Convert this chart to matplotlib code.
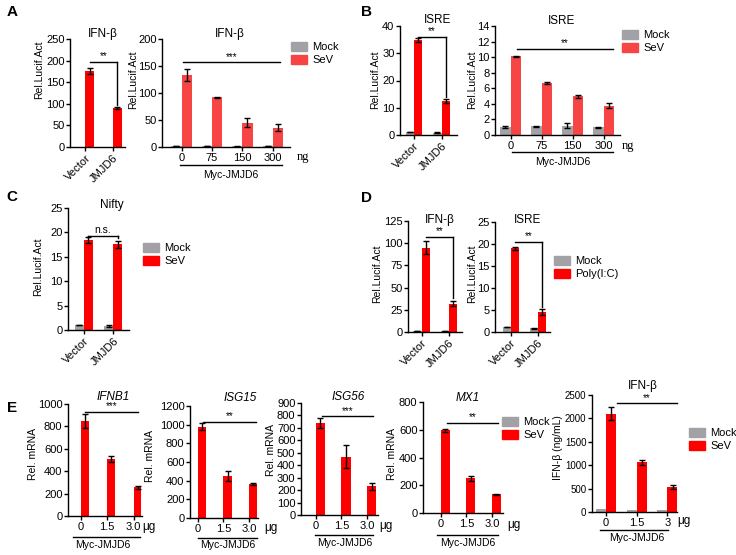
import numpy as np
import matplotlib
matplotlib.use("Agg")
import matplotlib.pyplot as plt
from matplotlib.lines import Line2D
from matplotlib.patches import Patch

plt.rcParams["font.family"] = ["Liberation Sans", "DejaVu Sans"]

W, H = 736, 555
GRAY = "#a2a2a6"
RED = "#ff0000"
RED_LT = "#f74545"

# ── dados ────────────────────────────────────────────────────────────────
vec_groups = ["Vector", "JMJD6"]
ng_labels = ["0", "75", "150", "300"]
ug_labels = ["0", "1.5", "3.0"]
ug_labels_elisa = ["0", "1.5", "3"]

a1_mock, a1_mock_err = [1, 1], [0, 0]
a1_sev, a1_sev_err = [176, 90], [6, 2]

a2_mock, a2_mock_err = [1, 1, 1.5, 1], [0, 0, 0.6, 0]
a2_sev, a2_sev_err = [133, 92, 45, 36], [11, 1, 8, 6]

b1_mock, b1_mock_err = [1.2, 0.8], [0, 0.15]
b1_sev, b1_sev_err = [34.8, 12.5], [0.8, 0.7]

b2_mock, b2_mock_err = [1.05, 1.1, 1.2, 1.0], [0.1, 0.05, 0.35, 0.05]
b2_sev, b2_sev_err = [10.1, 6.7, 4.95, 3.75], [0.1, 0.1, 0.15, 0.3]

c_mock, c_mock_err = [1.1, 0.9], [0, 0.2]
c_sev, c_sev_err = [18.5, 17.6], [0.6, 0.7]

d1_mock, d1_mock_err = [1, 1], [0, 0.3]
d1_poly, d1_poly_err = [95, 32], [7, 3]

d2_mock, d2_mock_err = [1.1, 0.8], [0, 0.15]
d2_poly, d2_poly_err = [19, 4.5], [0.3, 0.7]

e1_mock, e1_sev, e1_err = [2, 2, 2], [850, 510, 255], [60, 25, 10]
e2_mock, e2_sev, e2_err = [2, 2, 2], [980, 450, 360], [40, 50, 10]
e3_mock, e3_sev, e3_err = [2, 2, 2], [740, 470, 230], [40, 90, 30]
e4_mock, e4_sev, e4_err = [2, 2, 2], [595, 250, 135], [12, 20, 5]
e5_mock, e5_sev, e5_err = [70, 50, 50], [2100, 1060, 530], [140, 60, 40]

fig = plt.figure(figsize=(W / 100, H / 100), dpi=100)


def px(x, y):
    return x / W, 1 - y / H


def make_ax(x0, x1, ytop, ybot, ymax, ystep, xlim, fs=8):
    ax = fig.add_axes([x0 / W, 1 - ybot / H, (x1 - x0) / W, (ybot - ytop) / H])
    ax.set_xlim(*xlim)
    ax.set_ylim(0, ymax)
    ax.set_yticks(np.arange(0, ymax + ystep / 2, ystep))
    for s in ("top", "right"):
        ax.spines[s].set_visible(False)
    for s in ("left", "bottom"):
        ax.spines[s].set_linewidth(1)
    ax.tick_params(direction="out", length=3, width=1, labelsize=fs, pad=1.5)
    ax.tick_params(axis="y", pad=1)
    ax.patch.set_alpha(0)
    return ax


def draw_bars(ax, mock, mock_err, sev, sev_err, w, red):
    x = np.arange(len(sev))
    ax.bar(x - w / 2, mock, w, color=GRAY, zorder=1)
    ax.bar(x + w / 2, sev, w, color=red, zorder=1)
    ax.errorbar(x + w / 2, sev, yerr=sev_err, fmt="none", ecolor="k",
                elinewidth=1, capsize=2, capthick=1, zorder=3)
    me = np.array(mock_err)
    if me.any():
        ax.errorbar(x - w / 2, mock, yerr=me, fmt="none", ecolor="k",
                    elinewidth=1, capsize=2, capthick=1, zorder=3)
    ax.set_xticks(x)
    return x


def rotated_labels(ax, labels):
    ax.set_xticklabels(labels, rotation=45, ha="right", va="top",
                       rotation_mode="anchor", fontsize=8)


def bracket(ax, xa, xb, y, text, drop=None, fs=7):
    ax.plot([xa, xb], [y, y], color="k", lw=1, clip_on=False, zorder=4)
    if drop is not None:
        ax.plot([xb, xb], [y, drop], color="k", lw=1, clip_on=False, zorder=4)
    ax.annotate(text, xy=((xa + xb) / 2, y), xytext=(0, 0.3),
                textcoords="offset points", ha="center", va="bottom",
                fontsize=fs, annotation_clip=False)


def ftext(x, y, s, **kw):
    kw.setdefault("ha", "center")
    kw.setdefault("va", "center")
    fig.text(*px(x, y), s, **kw)


def ylab(x, y, s):
    ftext(x, y, s, rotation=90, fontsize=7.5)


def myc(x0, x1, y, ty, tx=None):
    fig.add_artist(Line2D([x0 / W, x1 / W], [1 - y / H] * 2, color="k", lw=1))
    ftext((x0 + x1) / 2 if tx is None else tx, ty, "Myc-JMJD6", fontsize=7.5)


def legend(x, y, labels, red):
    handles = [Patch(color=GRAY), Patch(color=red)]
    fig.legend(handles, labels, loc="upper left", bbox_to_anchor=px(x, y),
               frameon=False, fontsize=8, handlelength=1.4, handleheight=0.9,
               handletextpad=0.5, borderpad=0, borderaxespad=0,
               labelspacing=0.2)


# ── painel A ─────────────────────────────────────────────────────────────
ax = make_ax(70, 125, 39, 147, 250, 50, (-0.56, 1.44))
x = draw_bars(ax, a1_mock, a1_mock_err, a1_sev, a1_sev_err, 0.32, RED)
rotated_labels(ax, vec_groups)
bracket(ax, x[0] + 0.16, x[1] + 0.16, 197, "**", drop=97)
ftext(103, 34, "IFN-β", fontsize=8.5)
ylab(39, 70, "Rel.Lucif.Act")

ax = make_ax(162, 290, 39, 147, 200, 50, (-0.64, 3.56))
x = draw_bars(ax, a2_mock, a2_mock_err, a2_sev, a2_sev_err, 0.33, RED_LT)
ax.set_xticklabels(ng_labels)
bracket(ax, x[0] + 0.05, x[-1] + 0.23, 157, "***")
ftext(230, 34, "IFN-β", fontsize=8.5)
ylab(133, 80, "Rel.Lucif.Act")
ftext(303, 157, "ng", fontsize=9, family="Liberation Serif")
myc(180, 282, 165, 175)
legend(291, 42, ["Mock", "SeV"], RED_LT)

# ── painel B ─────────────────────────────────────────────────────────────
ax = make_ax(400, 457, 26, 135, 40, 10, (-0.51, 1.56))
x = draw_bars(ax, b1_mock, b1_mock_err, b1_sev, b1_sev_err, 0.3, RED)
rotated_labels(ax, vec_groups)
bracket(ax, x[0] + 0.15, x[1] + 0.15, 36, "**", drop=14)
ftext(438, 20, "ISRE", fontsize=8.5)
ylab(375, 80, "Rel.Lucif.Act")

ax = make_ax(495, 620, 26, 135, 14, 2, (-0.5, 3.53))
x = draw_bars(ax, b2_mock, b2_mock_err, b2_sev, b2_sev_err, 0.33, RED_LT)
ax.set_xticklabels(ng_labels)
bracket(ax, x[0] + 0.2, x[-1] + 0.3, 11.05, "**")
ftext(562, 21, "ISRE", fontsize=8.5)
ylab(472, 80, "Rel.Lucif.Act")
ftext(628, 146, "ng", fontsize=9, family="Liberation Serif")
myc(512, 613, 152, 162)
legend(622, 30, ["Mock", "SeV"], RED_LT)

# ── painel C ─────────────────────────────────────────────────────────────
ax = make_ax(68, 129, 208, 330, 25, 5, (-0.52, 1.52))
x = draw_bars(ax, c_mock, c_mock_err, c_sev, c_sev_err, 0.3, RED)
rotated_labels(ax, vec_groups)
ax.plot([x[0] + 0.15] * 2, [19.3, 18.8], color="k", lw=1, clip_on=False)
bracket(ax, x[0] + 0.15, x[1] + 0.15, 19.3, "n.s.", drop=18.8, fs=7.5)
ftext(112, 205, "Nifty", fontsize=8.5)
ylab(38, 267, "Rel.Lucif.Act")
legend(143, 243, ["Mock", "SeV"], RED)

# ── painel D ─────────────────────────────────────────────────────────────
ax = make_ax(408, 462, 221, 332, 125, 25, (-0.49, 1.47))
x = draw_bars(ax, d1_mock, d1_mock_err, d1_poly, d1_poly_err, 0.3, RED)
rotated_labels(ax, vec_groups)
bracket(ax, x[0] + 0.15, x[1] + 0.15, 107, "**", drop=38)
ftext(440, 220, "IFN-β", fontsize=8.5)
ylab(377, 274, "Rel.Lucif.Act")

ax = make_ax(495, 550, 222, 332, 25, 5, (-0.59, 1.44))
x = draw_bars(ax, d2_mock, d2_mock_err, d2_poly, d2_poly_err, 0.3, RED)
rotated_labels(ax, vec_groups)
bracket(ax, x[0] + 0.15, x[1] + 0.15, 20.5, "**", drop=5.7)
ftext(528, 220, "ISRE", fontsize=8.5)
ylab(472, 274, "Rel.Lucif.Act")
legend(554, 256, ["Mock", "Poly(I:C)"], RED)

# ── painel E ─────────────────────────────────────────────────────────────
zeros = [0, 0, 0]

ax = make_ax(68, 142, 404, 516, 1000, 200, (-0.49, 2.32))
x = draw_bars(ax, e1_mock, zeros, e1_sev, e1_err, 0.3, RED)
ax.set_xticklabels(ug_labels)
bracket(ax, x[0] + 0.15, x[-1] + 0.17, 929, "***")
ftext(113, 397, "IFNB1", fontsize=8.5, style="italic")
ylab(33, 454, "Rel. mRNA")
ftext(149, 527, "μg", fontsize=8.5)
myc(73, 140, 537, 545, 103)

ax = make_ax(190, 258, 406, 518, 1200, 200, (-0.31, 2.35))
x = draw_bars(ax, e2_mock, zeros, e2_sev, e2_err, 0.33, RED)
ax.set_xticklabels(ug_labels)
bracket(ax, x[0] + 0.2, x[-1] + 0.27, 1029, "**")
ftext(240, 398, "ISG15", fontsize=8.5, style="italic")
ylab(150, 456, "Rel. mRNA")
ftext(271, 528, "μg", fontsize=8.5)
myc(198, 257, 538, 545, 228)

ax = make_ax(301, 378, 403, 515, 900, 100, (-0.57, 2.43))
x = draw_bars(ax, e3_mock, zeros, e3_sev, e3_err, 0.36, RED)
ax.set_xticklabels(ug_labels)
bracket(ax, x[0] + 0.24, x[-1] + 0.24, 795, "***")
ftext(348, 397, "ISG56", fontsize=8.5, style="italic")
ylab(271, 450, "Rel. mRNA")
ftext(386, 526, "μg", fontsize=8.5)
myc(315, 373, 535, 543, 345)

ax = make_ax(423, 503, 402, 513, 800, 200, (-0.7, 2.43))
x = draw_bars(ax, e4_mock, zeros, e4_sev, e4_err, 0.34, RED)
ax.set_xticklabels(ug_labels)
bracket(ax, x[0] + 0.24, x[-1] + 0.24, 649, "**")
ftext(468, 398, "MX1", fontsize=8.5, style="italic")
ylab(392, 454, "Rel. mRNA")
ftext(514, 525, "μg", fontsize=8.5)
myc(437, 498, 535, 543, 468)
legend(502, 417, ["Mock", "SeV"], RED)

ax = make_ax(592, 677, 395, 512, 2500, 500, (-0.46, 2.31), fs=7)
x = draw_bars(ax, e5_mock, zeros, e5_sev, e5_err, 0.33, RED)
ax.set_xticklabels(ug_labels_elisa, fontsize=8)
bracket(ax, x[0] + 0.36, x[-1] + 0.31, 2329, "**")
ftext(643, 386, "IFN-β", fontsize=8.5)
ylab(558, 448, "IFN-β (ng/mL)")
ftext(684, 521, "μg", fontsize=8.5)
myc(600, 668, 530, 538, 637)
legend(689, 428, ["Mock", "SeV"], RED)

# ── letras dos painéis ───────────────────────────────────────────────────
for letter, lx, ly in [("A", 12, 12), ("B", 367, 12), ("C", 12, 197),
                       ("D", 367, 198), ("E", 12, 408)]:
    ftext(lx, ly, letter, fontsize=11, fontweight="bold")

fig.savefig("out.png", dpi=100)
